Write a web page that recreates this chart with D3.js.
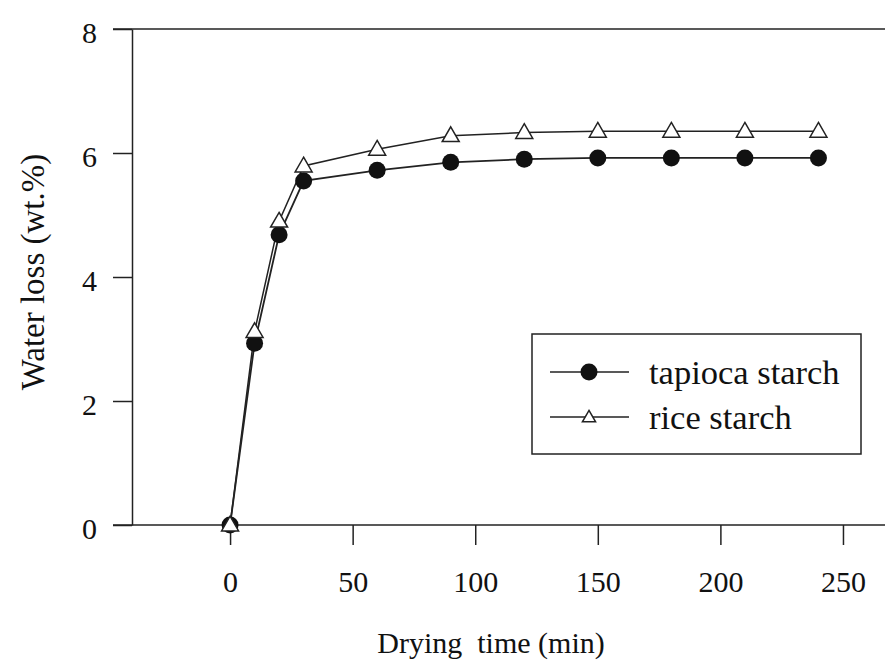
<!DOCTYPE html>
<html>
<head>
<meta charset="utf-8">
<script src="https://cdn.jsdelivr.net/npm/d3@7"></script>
<style>
  body { margin: 0; background: #fff; }
  svg text { font-family: "Liberation Serif", "Times New Roman", "DejaVu Serif", serif; }
</style>
</head>
<body>
<svg id="chart"></svg>
<script>
const width = 885;
const height = 663;
const serif = '"Liberation Serif", "Times New Roman", "DejaVu Serif", serif';

// data
const times = [0, 10, 20, 30, 60, 90, 120, 150, 180, 210, 240];
const tapioca = [0, 2.93, 4.68, 5.55, 5.72, 5.85, 5.9, 5.92, 5.92, 5.92, 5.92];
const rice = [0, 3.12, 4.9, 5.79, 6.06, 6.28, 6.33, 6.35, 6.35, 6.35, 6.35];
const xTicks = [0, 50, 100, 150, 200, 250];
const yTicks = [0, 2, 4, 6, 8];
const seriesNames = ['tapioca starch', 'rice starch'];

const plotLeft = 132, plotRight = 892, plotTop = 29, plotBottom = 525;

const svg = d3.select('#chart')
    .attr('width', width)
    .attr('height', height);

const x = d3.scaleLinear().domain([-40, 270]).range([plotLeft, plotRight]);
const y = d3.scaleLinear().domain([0, 8]).range([plotBottom, plotTop]);

// top frame line (sticks out past the y axis like the bottom one)
svg.append('line')
    .attr('x1', 113).attr('x2', width)
    .attr('y1', plotTop).attr('y2', plotTop)
    .attr('stroke', '#222').attr('stroke-width', 1.5);

const xAxis = svg.append('g')
    .attr('transform', `translate(0, ${plotBottom})`)
    .call(d3.axisBottom(x).tickValues(xTicks).tickSizeInner(20).tickSizeOuter(0).tickPadding(26));

const yAxis = svg.append('g')
    .attr('transform', `translate(${plotLeft}, 0)`)
    .call(d3.axisLeft(y).tickValues(yTicks).tickSizeInner(19).tickSizeOuter(0).tickPadding(16));

[xAxis, yAxis].forEach(g => {
    g.attr('font-family', serif);
    g.select('.domain').attr('stroke', '#222').attr('stroke-width', 1.5);
    g.selectAll('.tick line').attr('stroke', '#222').attr('stroke-width', 1.5);
    g.selectAll('.tick text')
        .attr('fill', '#111')
        .attr('font-family', serif)
        .style('font-size', '30px');
});
xAxis.select('.domain').attr('d', `M113,0H${width}`);
yAxis.selectAll('.tick text').attr('dy', '0.45em');

const line = d3.line()
    .x(d => x(d[0]))
    .y(d => y(d[1]));

const tapiocaPts = times.map((t, i) => [t, tapioca[i]]);
const ricePts = times.map((t, i) => [t, rice[i]]);

svg.append('path')
    .datum(ricePts)
    .attr('fill', 'none')
    .attr('stroke', '#222')
    .attr('stroke-width', 1.5)
    .attr('d', line);

svg.append('path')
    .datum(tapiocaPts)
    .attr('fill', 'none')
    .attr('stroke', '#222')
    .attr('stroke-width', 1.8)
    .attr('d', line);

const triangle = d3.symbol().type(d3.symbolTriangle).size(125);

svg.append('g')
    .selectAll('circle')
    .data(tapiocaPts)
    .enter()
    .append('circle')
    .attr('cx', d => x(d[0]))
    .attr('cy', d => y(d[1]))
    .attr('r', 8.5)
    .attr('fill', '#111');

svg.append('g')
    .selectAll('path')
    .data(ricePts)
    .enter()
    .append('path')
    .attr('d', triangle)
    .attr('transform', d => `translate(${x(d[0])}, ${y(d[1]) + 1})`)
    .attr('fill', '#fff')
    .attr('stroke', '#222')
    .attr('stroke-width', 1.5);

// legend
const legend = svg.append('g');
legend.append('rect')
    .attr('x', 532).attr('y', 334)
    .attr('width', 329).attr('height', 120)
    .attr('fill', '#fff')
    .attr('stroke', '#222')
    .attr('stroke-width', 1.5);

seriesNames.forEach((name, i) => {
    const ly = 372 + i * 45;
    legend.append('line')
        .attr('x1', 550).attr('x2', 629)
        .attr('y1', ly).attr('y2', ly)
        .attr('stroke', '#222').attr('stroke-width', 1.5);
    if (i === 0) {
        legend.append('circle')
            .attr('cx', 589).attr('cy', ly).attr('r', 8.5).attr('fill', '#111');
    } else {
        legend.append('path')
            .attr('d', d3.symbol().type(d3.symbolTriangle).size(75))
            .attr('transform', `translate(589, ${ly + 1})`)
            .attr('fill', '#fff').attr('stroke', '#222').attr('stroke-width', 1.5);
    }
    legend.append('text')
        .attr('x', 649).attr('y', ly)
        .attr('dy', '0.35em')
        .attr('fill', '#111')
        .attr('font-family', serif)
        .style('font-size', '34.5px')
        .text(name);
});

// axis titles
svg.append('text')
    .attr('x', 491).attr('y', 653)
    .attr('text-anchor', 'middle')
    .attr('fill', '#111')
    .attr('font-family', serif)
    .style('font-size', '30px')
    .style('white-space', 'pre')
    .text('Drying  time (min)');

svg.append('text')
    .attr('transform', 'translate(44, 272) rotate(-90)')
    .attr('text-anchor', 'middle')
    .attr('fill', '#111')
    .attr('font-family', serif)
    .style('font-size', '33px')
    .text('Water loss (wt.%)');
</script>
</body>
</html>
